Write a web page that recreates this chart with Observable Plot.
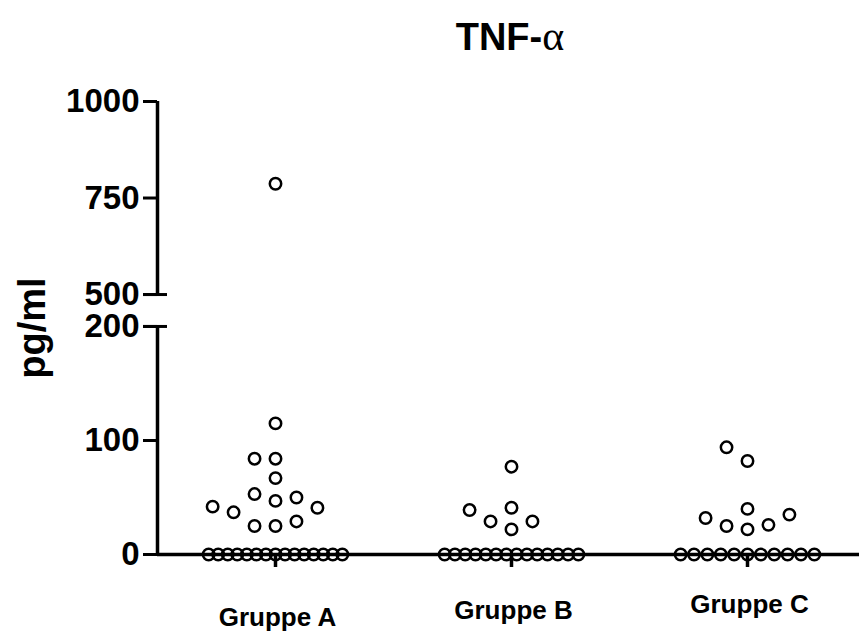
<!DOCTYPE html>
<html>
<head>
<meta charset="utf-8">
<script src="https://cdn.jsdelivr.net/npm/d3@7"></script>
<script src="https://cdn.jsdelivr.net/npm/@observablehq/plot@0.6"></script>
<style>
  html, body { margin: 0; padding: 0; background: #fff; overflow: hidden; }
  #title { position: relative; height: 70px; }
  #title div {
    position: absolute; left: 360px; width: 300px; top: 14px;
    text-align: center; font: bold 38px "Liberation Sans", Arial, sans-serif; line-height: 44px; color: #000;
  }
  #title span { font-family: "Liberation Serif", "DejaVu Serif", serif; font-weight: normal; font-size: 42px; }
</style>
</head>
<body>
<div id="title"><div>TNF-<span>α</span></div></div>
<div id="chart"></div>
<script>
// TNF-α concentrations (pg/ml) per group
const groups = ["Gruppe A", "Gruppe B", "Gruppe C"];
const valuesA = [787, 115, 84, 84, 67, 47, 53, 50, 25, 25, 29, 37, 41, 42,
                 0, 0, 0, 0, 0, 0, 0, 0, 0, 0, 0, 0, 0, 0, 0];
const valuesB = [77, 41, 29, 29, 22, 39,
                 0, 0, 0, 0, 0, 0, 0, 0, 0, 0, 0, 0, 0, 0];
const valuesC = [82, 94, 40, 22, 25, 26, 32, 35,
                 0, 0, 0, 0, 0, 0, 0, 0, 0, 0, 0];
const yTicks = [0, 100, 200, 500, 750, 1000];
const yBreak = [200, 500];          // gap in the value axis
const yMax = 1000;
const yLabel = "pg/ml";

// broken axis: the upper segment is compressed and separated by a small gap
const gapUnits = 28;
const upperRatio = 0.3386;
const brokenY = (v) => v <= yBreak[0] ? v : yBreak[0] + gapUnits + (v - yBreak[1]) * upperRatio;

const yRange = [484, 31];
const fxRange = [156, 865.5];
const band = (fxRange[1] - fxRange[0]) / groups.length;

// column scatter layout: scattered points take horizontal slots,
// long runs of equal values are spread evenly along one row
const slotStep = 21;
const rowWidth = 134;
const minGap = 18;
function swarm(values) {
  const pxPerUnit = (yRange[0] - yRange[1]) / brokenY(yMax);
  const counts = d3.rollup(values, (v) => v.length, (d) => d);
  const rowIndex = new Map();
  const placed = [];
  return values.map((v) => {
    const n = counts.get(v);
    if (n > 4) {
      const k = rowIndex.get(v) ?? 0;
      rowIndex.set(v, k + 1);
      const s = Math.min(slotStep, rowWidth / (n - 1));
      return (k - (n - 1) / 2) * s;
    }
    const y = brokenY(v) * pxPerUnit;
    for (let j = 0; ; j++) {
      const slot = j === 0 ? 0 : j % 2 ? -(j + 1) / 2 : j / 2;
      if (!placed.some((p) => p.slot === slot && Math.abs(p.y - y) < minGap)) {
        placed.push({slot, y});
        return slot * slotStep;
      }
    }
  });
}

const points = [valuesA, valuesB, valuesC].flatMap((vals, i) => {
  const offsets = swarm(vals);
  return vals.map((value, j) => ({group: groups[i], value, offset: offsets[j]}));
});
const axisSegments = [[0, yBreak[0]], [yBreak[1], yMax]];

const font = '"Liberation Sans", Arial, sans-serif';
const labelOffsets = [53, 46, 40];

const chart = Plot.plot({
  width: 859,
  height: 565,
  marginLeft: 156,
  marginRight: 0,
  marginTop: 31,
  marginBottom: 81,
  style: {fontFamily: font, color: "#000", background: "#fff", overflow: "visible"},
  x: {domain: [-band / 2, band / 2], axis: null},
  y: {transform: brokenY, domain: [0, brokenY(yMax)], range: yRange},
  fx: {domain: groups, padding: 0, range: fxRange},
  marks: [
    // baseline
    Plot.ruleY([0], {strokeWidth: 3.5}),
    // broken value axis: two segments
    Plot.ruleX(axisSegments, {x: -band / 2, y1: (d) => d[0], y2: (d) => d[1], fx: () => groups[0], strokeWidth: 3.5}),
    Plot.axisY(yTicks, {
      tickSize: 14, tickPadding: 4, strokeWidth: 3,
      fontSize: 33, fontWeight: "bold", label: null, tickFormat: (d) => String(d)
    }),
    // caps at the axis break
    Plot.axisY(yBreak, {tickSize: 24, dx: 10, strokeWidth: 3, fill: "none", label: null, tickFormat: () => ""}),
    // category ticks
    Plot.axisFx({anchor: "bottom", tickSize: 13, strokeWidth: 3.5, fill: "none", label: null, tickFormat: () => ""}),
    // category labels
    ...groups.map((g, i) => Plot.text([g], {
      fx: () => g, text: (d) => d, frameAnchor: "bottom", lineAnchor: "top",
      dy: labelOffsets[i], dx: 2, fontSize: 26, fontWeight: "bold"
    })),
    // y axis title
    Plot.text([yLabel], {
      fx: () => groups[0], text: (d) => d, frameAnchor: "left", textAnchor: "middle",
      rotate: -90, dx: -125, fontSize: 38, fontWeight: "bold"
    }),
    // individual measurements
    Plot.dot(points, {
      fx: "group", x: "offset", y: "value", r: 5.7, stroke: "#000", strokeWidth: 2.5, fill: "none"
    })
  ]
});
document.getElementById("chart").appendChild(chart);
</script>
</body>
</html>
